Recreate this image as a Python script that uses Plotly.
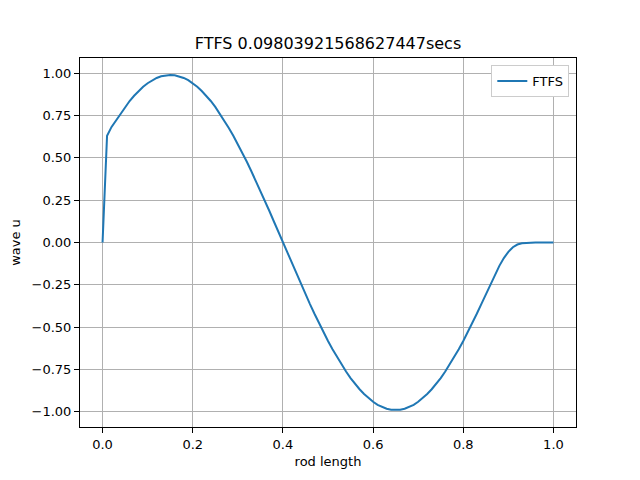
import plotly.graph_objects as go

# rod positions and wave amplitude
rod_x = [0.00, 0.01, 0.02, 0.03, 0.04, 0.05, 0.06, 0.07, 0.08, 0.09,
         0.10, 0.11, 0.12, 0.13, 0.14, 0.15, 0.16, 0.17, 0.18, 0.19,
         0.20, 0.21, 0.22, 0.23, 0.24, 0.25, 0.26, 0.27, 0.28, 0.29,
         0.30, 0.31, 0.32, 0.33, 0.34, 0.35, 0.36, 0.37, 0.38, 0.39,
         0.40, 0.41, 0.42, 0.43, 0.44, 0.45, 0.46, 0.47, 0.48, 0.49,
         0.50, 0.51, 0.52, 0.53, 0.54, 0.55, 0.56, 0.57, 0.58, 0.59,
         0.60, 0.61, 0.62, 0.63, 0.64, 0.65, 0.66, 0.67, 0.68, 0.69,
         0.70, 0.71, 0.72, 0.73, 0.74, 0.75, 0.76, 0.77, 0.78, 0.79,
         0.80, 0.81, 0.82, 0.83, 0.84, 0.85, 0.86, 0.87, 0.88, 0.89,
         0.90, 0.91, 0.92, 0.93, 0.94, 0.95, 0.96, 0.97, 0.98, 0.99, 1.00]
wave_u = [0.0, 0.63, 0.683, 0.722, 0.762, 0.801, 0.836, 0.867, 0.895, 0.92,
          0.941, 0.959, 0.972, 0.982, 0.988, 0.99, 0.988, 0.982, 0.972, 0.959,
          0.941, 0.92, 0.895, 0.867, 0.836, 0.801, 0.762, 0.721, 0.677, 0.631,
          0.582, 0.53, 0.477, 0.421, 0.364, 0.306, 0.246, 0.186, 0.124, 0.062,
          0.0, -0.062, -0.124, -0.186, -0.246, -0.306, -0.364, -0.421, -0.477, -0.53,
          -0.582, -0.631, -0.677, -0.721, -0.762, -0.801, -0.836, -0.867, -0.895, -0.92,
          -0.941, -0.959, -0.972, -0.982, -0.988, -0.99, -0.988, -0.982, -0.972, -0.959,
          -0.941, -0.92, -0.895, -0.867, -0.836, -0.801, -0.762, -0.721, -0.677, -0.631,
          -0.582, -0.53, -0.477, -0.421, -0.364, -0.306, -0.248, -0.19, -0.138, -0.092,
          -0.055, -0.028, -0.012, -0.005, -0.002, -0.001, 0.0, 0.0, 0.0, 0.0, 0.0]

x_ticks = [0.0, 0.2, 0.4, 0.6, 0.8, 1.0]
y_ticks = [-1.0, -0.75, -0.5, -0.25, 0.0, 0.25, 0.5, 0.75, 1.0]

fig = go.Figure()
fig.add_trace(go.Scatter(x=rod_x, y=wave_u, mode="lines", name="FTFS",
                         line=dict(color="#1f77b4", width=2)))

axis_style = dict(showline=True, mirror=True, linecolor="black", linewidth=1,
                  ticks="outside", ticklen=5, tickcolor="black", tickwidth=1,
                  showgrid=True, gridcolor="#b0b0b0", gridwidth=0.8,
                  zeroline=False, automargin=False,
                  tickfont=dict(size=13, color="black"))

fig.update_layout(
    width=640, height=480,
    paper_bgcolor="white", plot_bgcolor="white",
    font=dict(family="DejaVu Sans", size=13, color="black"),
    margin=dict(l=80, r=64, t=58, b=53),
    title=dict(text="FTFS 0.09803921568627447secs", x=0.5, xref="paper",
               xanchor="center", y=1 - 43 / 480, yref="container",
               yanchor="middle", font=dict(size=16)),
    xaxis=dict(range=[-0.05, 1.05], tickvals=x_ticks, tickformat=".1f",
               title=dict(text="rod length", standoff=6, font=dict(size=13)),
               **axis_style),
    yaxis=dict(range=[-1.09, 1.09], tickvals=y_ticks, tickformat=".2f",
               title=dict(text="wave u", standoff=8, font=dict(size=13)),
               **axis_style),
    showlegend=True,
    legend=dict(x=0.9865, y=0.981, xanchor="right", yanchor="top",
                bgcolor="white", bordercolor="#cccccc", borderwidth=1,
                font=dict(size=13)),
)

fig.write_html("out.html", config={"displayModeBar": False},
               post_script="document.body.style.margin='0';")
